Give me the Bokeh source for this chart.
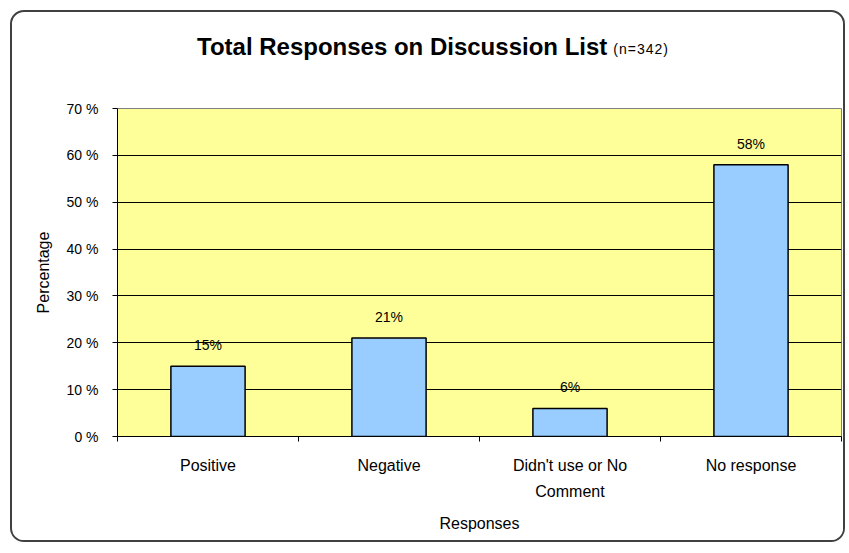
from bokeh.plotting import figure
from bokeh.models import FixedTicker, LinearAxis, Range1d, ColumnDataSource, Div
from bokeh.layouts import column
from bokeh.core.properties import value
from bokeh.embed import file_html
from bokeh.resources import INLINE

# ---- data ----
categories = ["Positive", "Negative", "Didn't use or No\nComment", "No response"]
percentages = [15, 21, 6, 58]
data_labels = ["15%", "21%", "6%", "58%"]
y_ticks = [0, 10, 20, 30, 40, 50, 60, 70]
y_tick_labels = ["0 %", "10 %", "20 %", "30 %", "40 %", "50 %", "60 %", "70 %"]
title_main = "Total Responses on Discussion List"
title_note = "(n=342)"
x_title = "Responses"
y_title = "Percentage"

FONT = "Liberation Sans"
n = len(categories)
centers = [i + 0.5 for i in range(n)]

W = 831
DIV_H = 60
H = 528 - DIV_H

title_div = Div(
    text=(f'<div style="padding:21px 0 0 185px; white-space:nowrap; line-height:28px; '
          f'font-family:\'{FONT}\'; color:black">'
          f'<span style="font-size:24px; font-weight:bold">{title_main}</span>'
          f'<span style="font-size:14px; letter-spacing:1px; margin-left:6px; '
          f'position:relative; top:-1px">{title_note}</span></div>'),
    width=W, height=DIV_H, margin=0)

p = figure(width=W, height=H, output_backend="svg", toolbar_location=None,
           x_range=Range1d(0, n), y_range=Range1d(0, 70),
           x_axis_location=None, y_axis_location=None,
           min_border_left=105, min_border_right=2, min_border_top=96 - DIV_H,
           min_border_bottom=104, margin=0)
p.background_fill_color = "#FFFF99"
p.border_fill_color = "white"
p.outline_line_color = "#808080"
p.outline_line_width = 1

# grid
p.xgrid.visible = False
p.ygrid.ticker = FixedTicker(ticks=y_ticks[1:-1])
p.ygrid.grid_line_color = "black"
p.ygrid.grid_line_width = 1

# y axis
yaxis = LinearAxis(ticker=FixedTicker(ticks=y_ticks),
                   major_label_overrides={t: l for t, l in zip(y_ticks, y_tick_labels)},
                   axis_label=y_title)
yaxis.axis_line_color = "black"
yaxis.major_tick_line_color = "black"
yaxis.major_tick_out = 5
yaxis.major_tick_in = 0
yaxis.minor_tick_line_color = None
yaxis.major_label_standoff = 14
yaxis.major_label_text_font = FONT
yaxis.major_label_text_font_size = "14px"
yaxis.major_label_text_color = "black"
yaxis.axis_label_text_font = FONT
yaxis.axis_label_text_font_size = "16px"
yaxis.axis_label_text_font_style = "normal"
yaxis.axis_label_text_color = "black"
yaxis.axis_label_standoff = 12
p.add_layout(yaxis, "left")

# x axis: boundary ticks
bounds = list(range(n + 1))
xaxis = LinearAxis(ticker=FixedTicker(ticks=bounds),
                   major_label_overrides={b: "" for b in bounds})
xaxis.axis_line_color = "black"
xaxis.major_tick_line_color = "black"
xaxis.major_tick_out = 5
xaxis.major_tick_in = 0
xaxis.minor_tick_line_color = None
xaxis.major_label_text_font_size = "1px"
xaxis.major_label_standoff = 0
p.add_layout(xaxis, "below")

# x axis: category labels
xlab = LinearAxis(ticker=FixedTicker(ticks=centers),
                  major_label_overrides={c: l for c, l in zip(centers, categories)},
                  axis_label=x_title)
xlab.axis_line_color = None
xlab.major_tick_line_color = None
xlab.minor_tick_line_color = None
xlab.major_label_standoff = 9
xlab.major_label_text_font = FONT
xlab.major_label_text_font_size = "16px"
xlab.major_label_text_color = "black"
xlab.major_label_text_line_height = 1.55
xlab.axis_label_text_font = FONT
xlab.axis_label_text_font_size = "16px"
xlab.axis_label_text_font_style = "normal"
xlab.axis_label_text_color = "black"
xlab.axis_label_standoff = 12
p.add_layout(xlab, "below")

src = ColumnDataSource(dict(x=centers, top=percentages, lab=data_labels))
p.vbar(x="x", top="top", width=0.41, bottom=0, source=src,
       fill_color="#99CCFF", line_color="black", line_width=1.5)
p.text(x="x", y="top", text="lab", source=src, y_offset=-13,
       text_align="center", text_baseline="bottom",
       text_font=value(FONT), text_font_size="14px", text_color="black")

layout = column(title_div, p, spacing=0,
                styles={"border": "2px solid #404040", "border-radius": "14px",
                        "overflow": "hidden", "background-color": "white",
                        "margin-left": "10px", "margin-top": "10px"})

open("out.html", "w").write(file_html(layout, INLINE))
